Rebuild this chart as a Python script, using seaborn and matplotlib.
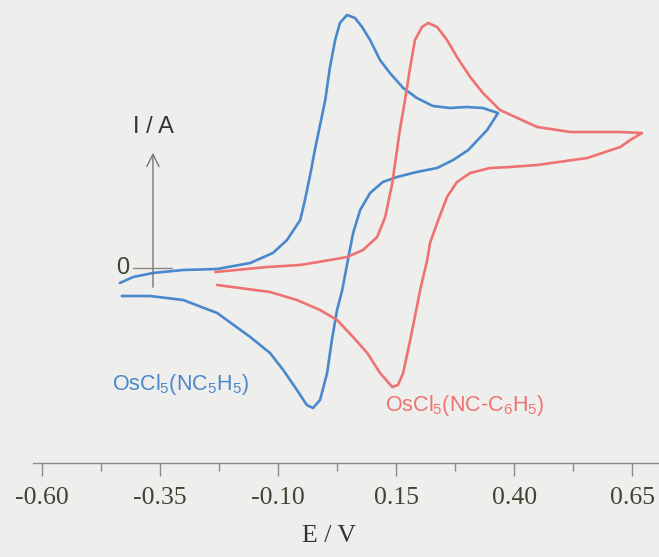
import numpy as np
import pandas as pd
import seaborn as sns
import matplotlib.pyplot as plt
from matplotlib.ticker import FixedLocator

# cyclic voltammograms (E in V, I in arbitrary units)
blue_fwd_E = [-0.435, -0.407, -0.365, -0.301, -0.229, -0.159, -0.111, -0.081, -0.053, -0.043,
              -0.032, -0.022, -0.011, 0.000, 0.010, 0.021, 0.031, 0.046, 0.063, 0.078,
              0.095, 0.116, 0.137, 0.165, 0.194, 0.228, 0.264, 0.300, 0.334, 0.366]
blue_fwd_I = [-15, -9, -5, -2, -1, 5, 15, 28, 48, 68,
              93, 118, 143, 168, 201, 228, 245, 253, 250, 241,
              228, 208, 195, 180, 170, 162, 160, 161, 160, 155]
blue_rev_E = [0.366, 0.343, 0.303, 0.271, 0.237, 0.194, 0.152, 0.122, 0.095, 0.074,
              0.059, 0.048, 0.036, 0.025, 0.014, 0.004, -0.011, -0.026, -0.039, -0.060,
              -0.089, -0.117, -0.159, -0.229, -0.301, -0.371, -0.431]
blue_rev_I = [155, 138, 118, 108, 100, 96, 91, 86, 75, 58,
              35, 8, -22, -42, -72, -105, -132, -140, -137, -122,
              -102, -85, -69, -45, -32, -28, -28]

red_fwd_E = [-0.233, -0.123, -0.053, 0.010, 0.046, 0.080, 0.110, 0.127, 0.142, 0.152,
             0.158, 0.169, 0.180, 0.190, 0.205, 0.218, 0.237, 0.258, 0.279, 0.307,
             0.334, 0.370, 0.449, 0.519, 0.583, 0.625, 0.671]
red_fwd_I = [-4, 1, 3, 8, 11, 18, 31, 51, 85, 118,
             138, 168, 201, 228, 241, 245, 241, 228, 211, 191,
             175, 158, 141, 136, 136, 136, 135]
red_rev_E = [0.671, 0.646, 0.625, 0.555, 0.449, 0.392, 0.349, 0.307, 0.279, 0.258,
             0.237, 0.222, 0.216, 0.201, 0.194, 0.180, 0.165, 0.154, 0.142, 0.116,
             0.089, 0.059, 0.025, -0.011, -0.060, -0.117, -0.229]
red_rev_I = [135, 128, 121, 110, 103, 101, 100, 95, 86, 71,
             45, 25, 8, -22, -39, -72, -105, -117, -119, -105,
             -85, -69, -52, -42, -32, -24, -17]

x_ticks = [-0.60, -0.35, -0.10, 0.15, 0.40, 0.65]
x_minor = [-0.475, -0.225, 0.025, 0.275, 0.525]
blue_label = "OsCl$_\\mathregular{5}$(NC$_\\mathregular{5}$H$_\\mathregular{5}$)"
red_label = "OsCl$_\\mathregular{5}$(NC-C$_\\mathregular{6}$H$_\\mathregular{5}$)"

bg = "#eeeeec"
blue = "#4a88cc"
red = "#ef7272"
txt = "#3b4530"

sns.set_style("white")
plt.rcParams["font.family"] = ["Liberation Sans", "DejaVu Sans"]

fig = plt.figure(figsize=(6.59, 5.57), dpi=100, facecolor=bg)
ax = fig.add_axes([0, 0, 1, 1], facecolor=bg)

blue_df = pd.DataFrame({"E": blue_fwd_E + blue_rev_E, "I": blue_fwd_I + blue_rev_I})
red_df = pd.DataFrame({"E": red_fwd_E + red_rev_E, "I": red_fwd_I + red_rev_I})
sns.lineplot(data=blue_df, x="E", y="I", sort=False, estimator=None, color=blue, lw=1.9, ax=ax)
sns.lineplot(data=red_df, x="E", y="I", sort=False, estimator=None, color=red, lw=1.9, ax=ax)

ax.set_xlim(-0.689, 0.707)
ax.set_ylim(-289, 268)

# bottom axis only
for s in ["left", "top", "right"]:
    ax.spines[s].set_visible(False)
ax.spines["bottom"].set_position(("data", -195))
ax.spines["bottom"].set_bounds(-0.619, 0.707)
ax.spines["bottom"].set_color("#8a8a8a")
ax.spines["bottom"].set_linewidth(1.0)
ax.set_xticks(x_ticks)
ax.set_xticklabels([f"{t:.2f}" for t in x_ticks], family="Liberation Serif", fontsize=18.5, color=txt)
ax.xaxis.set_minor_locator(FixedLocator(x_minor))
ax.tick_params(axis="x", which="both", bottom=True, direction="out", width=1, color="#8a8a8a")
ax.tick_params(axis="x", which="major", length=9, pad=8)
ax.tick_params(axis="x", which="minor", length=6)
ax.set_yticks([])
ax.set_ylabel("")
ax.set_xlabel("E / V", family="Liberation Serif", fontsize=18.5, color="#333333", labelpad=12)

# current axis arrow and zero mark
ax.annotate("", xy=(-0.365, 118), xytext=(-0.365, -22),
            arrowprops=dict(arrowstyle="->", color="#777777", lw=1.0, mutation_scale=22))
ax.plot([-0.407, -0.325], [0, 0], color="#888888", lw=1.0)
ax.text(-0.416, 0, "0", fontsize=17, color=txt, ha="right", va="center")
ax.text(-0.365, 130, "I / A", fontsize=17, color="#333333", ha="center", va="bottom")

ax.text(-0.452, -117, blue_label, fontsize=15.5, color=blue, ha="left", va="center")
ax.text(0.127, -138, red_label, fontsize=15.5, color=red, ha="left", va="center")

fig.savefig("out.png", dpi=100, facecolor=bg)
